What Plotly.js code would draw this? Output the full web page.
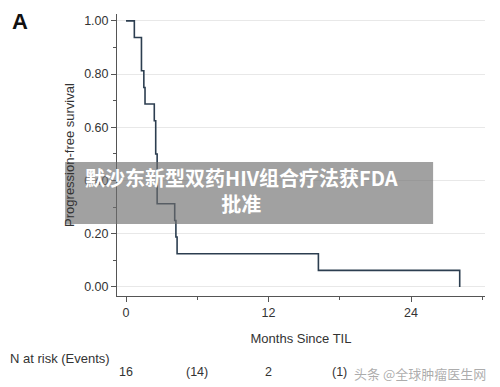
<!DOCTYPE html>
<html>
<head>
<meta charset="utf-8">
<script src="https://cdn.plot.ly/plotly-3.0.1.min.js"></script>
<style>html,body{margin:0;padding:0;background:#fff;}#chart{width:500px;height:387px;}</style>
</head>
<body>
<div id="chart"></div>
<script>
// Kaplan-Meier step data (months since TIL, progression-free survival)
const months   = [0, 0.7, 1.3, 1.5, 1.6, 2.38, 2.5, 2.62, 4.1, 4.2, 4.3, 16.2, 28.1];
const survival = [1.0, 0.9375, 0.8125, 0.75, 0.6875, 0.625, 0.5, 0.3125, 0.25, 0.1875, 0.125, 0.0625, 0.0];

// Number at risk table
const riskMonths = [0, 6, 12, 18];
const riskLabels = ['16', '(14)', '2', '(1)'];

const yTicks = [0, 0.2, 0.4, 0.6, 0.8, 1.0];
const yTickText = ['0.00', '0.20', '0.40', '0.60', '0.80', '1.00'];
const xTicks = [0, 12, 24];

const font = 'Arial, "Liberation Sans", sans-serif';
const cjk = '"Noto Sans CJK SC", sans-serif';

const trace = {
  x: months, y: survival, type: 'scatter', mode: 'lines',
  line: {shape: 'hv', color: '#2c3e50', width: 1.6},
  hoverinfo: 'skip', showlegend: false
};

const annotations = riskMonths.map((m, i) => ({
  x: m, xref: 'x', y: -0.27, yref: 'paper', text: riskLabels[i],
  showarrow: false, font: {family: font, size: 12.5, color: '#333'},
  xanchor: 'center', yanchor: 'middle'
}));

annotations.push(
  {xref: 'paper', x: -0.295, yref: 'paper', y: -0.22, text: 'N at risk (Events)', showarrow: false,
   xanchor: 'left', yanchor: 'middle', font: {family: font, size: 13, color: '#333'}},
  {xref: 'paper', x: -0.29, yref: 'paper', y: 0.975, text: '<b>A</b>', showarrow: false,
   xanchor: 'left', yanchor: 'middle', font: {family: font, size: 22, color: '#111'}},
  {xref: 'paper', x: 1.008, yref: 'paper', y: -0.275, text: '头条 @全球肿瘤医生网', showarrow: false,
   xanchor: 'right', yanchor: 'middle', font: {family: cjk, size: 13, color: 'rgba(90,90,90,0.5)'}},
  {xref: 'paper', x: 0.337, yref: 'paper', y: 0.373,
   text: '<b>默沙东新型双药HIV组合疗法获FDA<br>批准</b>', showarrow: false, align: 'center',
   xanchor: 'center', yanchor: 'middle', font: {family: cjk, size: 20, color: '#fff'}}
);

const layout = {
  width: 500, height: 387,
  margin: {l: 117, r: 15, t: 14, b: 91},
  paper_bgcolor: '#fff', plot_bgcolor: '#fff',
  font: {family: font, color: '#333'},
  xaxis: {
    range: [-0.76, 30.23], tickvals: xTicks, ticks: 'outside', ticklen: 5, tickcolor: '#555',
    showline: true, linecolor: '#555', linewidth: 1, showgrid: false, zeroline: false,
    tickfont: {size: 12.5, color: '#333'},
    minor: {tickvals: [6, 18, 30], ticks: 'outside', ticklen: 3, tickcolor: '#555', showgrid: false},
    title: {text: 'Months Since TIL', font: {size: 13, color: '#333'}, standoff: 14}
  },
  yaxis: {
    range: [-0.034, 1.026], tickvals: yTicks, ticktext: yTickText, ticks: 'outside', ticklen: 5, tickcolor: '#555',
    showline: true, linecolor: '#555', linewidth: 1, showgrid: true, gridcolor: '#e8e8e8', zeroline: false,
    tickfont: {size: 12.5, color: '#333'},
    minor: {tickvals: [0.1, 0.3, 0.5, 0.7, 0.9], ticks: 'outside', ticklen: 3, tickcolor: '#555', showgrid: false},
    title: {text: 'Progression-free survival', font: {size: 13, color: '#333'}, standoff: 6}
  },
  shapes: [{
    type: 'rect', xref: 'paper', yref: 'paper',
    x0: -0.141, x1: 0.859, y0: 0.255, y1: 0.475,
    fillcolor: 'rgba(110,110,110,0.65)', line: {width: 0}, layer: 'above'
  }],
  annotations: annotations,
  showlegend: false
};

Plotly.newPlot('chart', [trace], layout, {displayModeBar: false, staticPlot: true});
</script>
</body>
</html>
